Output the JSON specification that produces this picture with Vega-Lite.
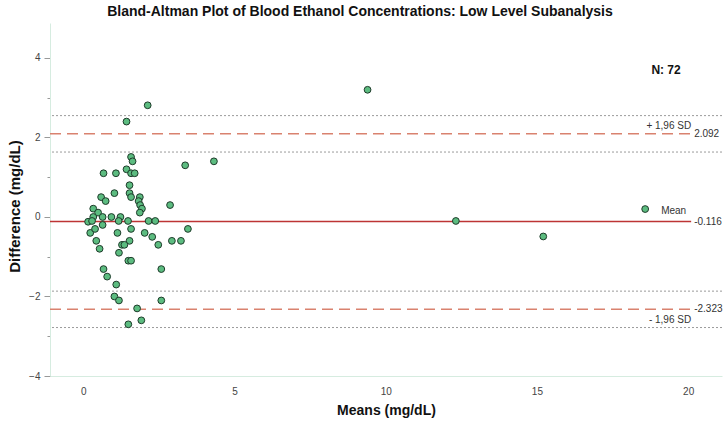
{
  "$schema": "https://vega.github.io/schema/vega-lite/v6.json",
  "width": 672,
  "height": 353,
  "autosize": {"type": "none"},
  "padding": {"left": 50, "top": 23, "right": 2, "bottom": 50},
  "background": "white",
  "title": {
    "text": "Bland-Altman Plot of Blood Ethanol Concentrations: Low Level Subanalysis",
    "fontSize": 14,
    "fontWeight": "bold",
    "font": "Liberation Sans",
    "color": "#111111",
    "anchor": "middle",
    "frame": "group",
    "dx": -26,
    "dy": 15,
    "offset": 5,
    "baseline": "bottom"
  },
  "config": {"view": {"stroke": null}, "font": "Liberation Sans"},
  "datasets": {
    "points": [
      {"mean": 2.13, "diff": 2.81}, {"mean": 1.43, "diff": 2.40}, {"mean": 1.58, "diff": 1.51}, {"mean": 1.63, "diff": 1.40},
      {"mean": 0.67, "diff": 1.10}, {"mean": 1.08, "diff": 1.10}, {"mean": 1.43, "diff": 1.20}, {"mean": 1.58, "diff": 1.10},
      {"mean": 1.70, "diff": 1.10}, {"mean": 3.37, "diff": 1.30}, {"mean": 4.32, "diff": 1.40}, {"mean": 1.53, "diff": 0.80},
      {"mean": 1.03, "diff": 0.60}, {"mean": 1.53, "diff": 0.60}, {"mean": 0.59, "diff": 0.50}, {"mean": 0.74, "diff": 0.40},
      {"mean": 1.58, "diff": 0.50}, {"mean": 1.87, "diff": 0.50}, {"mean": 1.83, "diff": 0.40}, {"mean": 1.88, "diff": 0.30},
      {"mean": 1.94, "diff": 0.21}, {"mean": 1.87, "diff": 0.11}, {"mean": 2.87, "diff": 0.30}, {"mean": 0.33, "diff": 0.21},
      {"mean": 0.49, "diff": 0.11}, {"mean": 0.33, "diff": 0.00}, {"mean": 0.64, "diff": 0.00}, {"mean": 0.93, "diff": 0.00},
      {"mean": 1.23, "diff": 0.00}, {"mean": 0.16, "diff": -0.12}, {"mean": 0.29, "diff": -0.10}, {"mean": 1.17, "diff": -0.10},
      {"mean": 1.48, "diff": -0.10}, {"mean": 2.16, "diff": -0.10}, {"mean": 2.38, "diff": -0.10}, {"mean": 0.23, "diff": -0.40},
      {"mean": 0.39, "diff": -0.30}, {"mean": 0.64, "diff": -0.20}, {"mean": 1.58, "diff": -0.30}, {"mean": 1.13, "diff": -0.40},
      {"mean": 2.03, "diff": -0.40}, {"mean": 2.28, "diff": -0.50}, {"mean": 3.46, "diff": -0.30}, {"mean": 0.43, "diff": -0.60},
      {"mean": 1.53, "diff": -0.60}, {"mean": 1.28, "diff": -0.70}, {"mean": 1.36, "diff": -0.70}, {"mean": 2.48, "diff": -0.70},
      {"mean": 2.93, "diff": -0.60}, {"mean": 3.23, "diff": -0.60}, {"mean": 0.54, "diff": -0.80}, {"mean": 1.18, "diff": -0.90},
      {"mean": 1.49, "diff": -1.10}, {"mean": 1.58, "diff": -1.10}, {"mean": 0.67, "diff": -1.31}, {"mean": 0.79, "diff": -1.50},
      {"mean": 2.58, "diff": -1.31}, {"mean": 1.09, "diff": -1.70}, {"mean": 1.03, "diff": -2.00}, {"mean": 1.18, "diff": -2.10},
      {"mean": 2.58, "diff": -2.10}, {"mean": 1.78, "diff": -2.30}, {"mean": 1.92, "diff": -2.60}, {"mean": 1.49, "diff": -2.70},
      {"mean": 9.40, "diff": 3.20}, {"mean": 12.32, "diff": -0.10}, {"mean": 15.21, "diff": -0.49}, {"mean": 18.58, "diff": 0.20}
    ],
    "limits": [
      {"stat": "Upper", "value": 2.092, "valueLabel": "2.092", "note": "+ 1,96 SD"},
      {"stat": "Mean", "value": -0.116, "valueLabel": "-0.116", "note": "Mean"},
      {"stat": "Lower", "value": -2.323, "valueLabel": "-2.323", "note": "- 1,96 SD"}
    ],
    "ci": [
      {"bound": "Upper LoA high", "value": 2.55},
      {"bound": "Upper LoA low", "value": 1.634},
      {"bound": "Lower LoA high", "value": -1.865},
      {"bound": "Lower LoA low", "value": -2.781}
    ],
    "info": [{"label": "N: 72", "mean": 19.27, "diff": 3.71}]
  },
  "layer": [
    {
      "data": {"name": "ci"},
      "mark": {"type": "rule", "color": "#9a9a9a", "strokeWidth": 1, "strokeDash": [2, 2]},
      "encoding": {
        "y": {"field": "value", "type": "quantitative", "scale": {"domain": [-4, 4.88], "nice": false, "zero": false}}
      }
    },
    {
      "data": {"name": "limits"},
      "transform": [{"filter": "datum.stat !== 'Mean'"}],
      "mark": {"type": "rule", "color": "#d9826f", "strokeWidth": 1.5, "strokeDash": [11, 6]},
      "encoding": {
        "x": {"datum": -1.1, "type": "quantitative"},
        "x2": {"datum": 20.1},
        "y": {"field": "value", "type": "quantitative"}
      }
    },
    {
      "data": {"name": "limits"},
      "transform": [{"filter": "datum.stat === 'Mean'"}],
      "mark": {"type": "rule", "color": "#bd3434", "strokeWidth": 1.5},
      "encoding": {
        "x": {"datum": -1.1, "type": "quantitative"},
        "x2": {"datum": 20.1},
        "y": {"field": "value", "type": "quantitative"}
      }
    },
    {
      "data": {"name": "limits"},
      "mark": {"type": "text", "align": "left", "baseline": "middle", "dx": 3, "fontSize": 10, "color": "#333333"},
      "encoding": {
        "x": {"datum": 20.1, "type": "quantitative"},
        "y": {"field": "value", "type": "quantitative"},
        "text": {"field": "valueLabel"}
      }
    },
    {
      "data": {"name": "limits"},
      "transform": [{"filter": "datum.stat === 'Upper'"}],
      "mark": {"type": "text", "align": "right", "baseline": "middle", "dx": 0, "dy": -8, "fontSize": 10, "color": "#333333"},
      "encoding": {
        "x": {"datum": 20.1, "type": "quantitative"},
        "y": {"field": "value", "type": "quantitative"},
        "text": {"field": "note"}
      }
    },
    {
      "data": {"name": "limits"},
      "transform": [{"filter": "datum.stat === 'Mean'"}],
      "mark": {"type": "text", "align": "right", "baseline": "middle", "dx": -5, "dy": -11, "fontSize": 10, "color": "#333333"},
      "encoding": {
        "x": {"datum": 20.1, "type": "quantitative"},
        "y": {"field": "value", "type": "quantitative"},
        "text": {"field": "note"}
      }
    },
    {
      "data": {"name": "limits"},
      "transform": [{"filter": "datum.stat === 'Lower'"}],
      "mark": {"type": "text", "align": "right", "baseline": "middle", "dx": 0, "dy": 11, "fontSize": 10, "color": "#333333"},
      "encoding": {
        "x": {"datum": 20.1, "type": "quantitative"},
        "y": {"field": "value", "type": "quantitative"},
        "text": {"field": "note"}
      }
    },
    {
      "data": {"name": "info"},
      "mark": {"type": "text", "align": "center", "baseline": "middle", "fontSize": 12, "fontWeight": "bold", "color": "#111111"},
      "encoding": {
        "x": {"field": "mean", "type": "quantitative"},
        "y": {"field": "diff", "type": "quantitative"},
        "text": {"field": "label"}
      }
    },
    {
      "data": {"name": "points"},
      "mark": {"type": "circle", "size": 46, "fill": "#5cbc80", "stroke": "#1e3b2a", "strokeWidth": 1, "opacity": 1},
      "encoding": {
        "x": {
          "field": "mean",
          "type": "quantitative",
          "scale": {"domain": [-1.1, 21.12], "nice": false, "zero": false},
          "axis": {
            "title": "Means (mg/dL)",
            "values": [0, 5, 10, 15, 20],
            "ticks": false,
            "grid": false,
            "domainColor": "#d6ece0",
            "labelPadding": 10,
            "labelFontSize": 10,
            "labelColor": "#444444",
            "titleFontSize": 14,
            "titleFontWeight": "bold",
            "titleColor": "#111111",
            "titleBaseline": "middle",
            "titleY": 34
          }
        },
        "y": {
          "field": "diff",
          "type": "quantitative",
          "axis": {
            "title": "Difference (mg/dL)",
            "values": [-4, -3, -2, -1, 0, 1, 2, 3, 4],
            "labelExpr": "datum.value % 2 === 0 ? datum.label : ''",
            "grid": false,
            "domainColor": "#d6ece0",
            "tickColor": "#999999",
            "tickSize": {"condition": {"test": "datum.value % 2 === 0", "value": 6}, "value": 3},
            "labelPadding": 4,
            "labelFontSize": 10,
            "labelColor": "#444444",
            "titleFontSize": 15,
            "titleFontWeight": "bold",
            "titleColor": "#111111",
            "titleAngle": -90,
            "titleAlign": "center",
            "titleBaseline": "middle",
            "titleX": -36,
            "titleY": 183
          }
        }
      }
    }
  ]
}
